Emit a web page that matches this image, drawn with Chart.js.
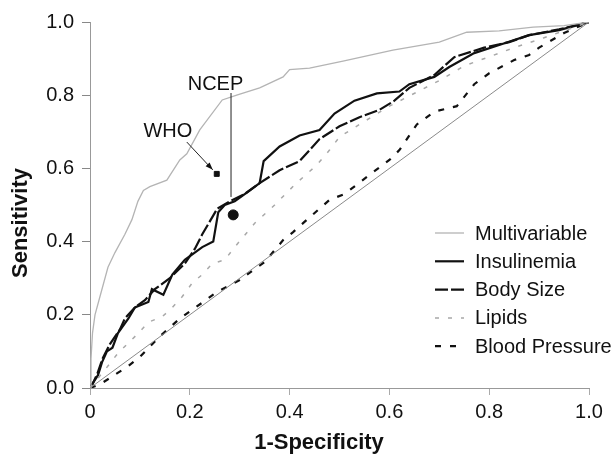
<!DOCTYPE html>
<html>
<head>
<meta charset="utf-8">
<script src="https://cdn.jsdelivr.net/npm/chart.js@4/dist/chart.umd.min.js"></script>
<style>
  html, body { margin: 0; padding: 0; background: #fff; }
  #wrap { width: 616px; height: 457px; }
</style>
</head>
<body>
<div id="wrap"><canvas id="roc" width="616" height="457"></canvas></div>
<script>
// tick values and labels
const xTickValues = [0, 0.2, 0.4, 0.6, 0.8, 1.0];
const xTickLabels = ['0', '0.2', '0.4', '0.6', '0.8', '1.0'];
const yTickValues = [0, 0.2, 0.4, 0.6, 0.8, 1.0];
const yTickLabels = ['0.0', '0.2', '0.4', '0.6', '0.8', '1.0'];

// ROC curves (1-specificity, sensitivity)
const multiX = [0, 0.002, 0.005, 0.01, 0.02, 0.036, 0.05, 0.07, 0.084, 0.096, 0.107, 0.12, 0.154, 0.18, 0.194, 0.22, 0.265, 0.294, 0.34, 0.387, 0.40, 0.44, 0.507, 0.607, 0.70, 0.755, 0.82, 0.888, 0.95, 1.0];
const multiY = [0, 0.08, 0.15, 0.2, 0.25, 0.33, 0.37, 0.42, 0.46, 0.51, 0.54, 0.55, 0.568, 0.623, 0.64, 0.705, 0.787, 0.80, 0.82, 0.85, 0.87, 0.874, 0.893, 0.923, 0.945, 0.972, 0.976, 0.986, 0.99, 1.0];

const insulX = [0, 0.003, 0.016, 0.024, 0.034, 0.045, 0.056, 0.077, 0.09, 0.117, 0.124, 0.147, 0.165, 0.19, 0.225, 0.247, 0.257, 0.27, 0.29, 0.31, 0.34, 0.348, 0.38, 0.42, 0.46, 0.49, 0.53, 0.575, 0.62, 0.64, 0.69, 0.72, 0.77, 0.82, 0.88, 0.94, 1.0];
const insulY = [0, 0.008, 0.035, 0.07, 0.10, 0.11, 0.15, 0.19, 0.22, 0.235, 0.27, 0.255, 0.31, 0.35, 0.385, 0.40, 0.48, 0.50, 0.51, 0.53, 0.56, 0.62, 0.66, 0.69, 0.705, 0.75, 0.785, 0.805, 0.81, 0.83, 0.85, 0.877, 0.915, 0.937, 0.964, 0.978, 1.0];

const bodyX = [0, 0.005, 0.015, 0.025, 0.04, 0.06, 0.07, 0.09, 0.11, 0.13, 0.16, 0.19, 0.21, 0.225, 0.255, 0.28, 0.31, 0.34, 0.38, 0.42, 0.46, 0.50, 0.54, 0.58, 0.61, 0.64, 0.69, 0.73, 0.79, 0.84, 0.88, 0.94, 1.0];
const bodyY = [0, 0.01, 0.04, 0.08, 0.12, 0.16, 0.19, 0.22, 0.24, 0.27, 0.30, 0.34, 0.38, 0.42, 0.49, 0.51, 0.53, 0.56, 0.595, 0.62, 0.68, 0.715, 0.74, 0.76, 0.785, 0.82, 0.855, 0.904, 0.93, 0.945, 0.964, 0.98, 1.0];

const lipidX = [0, 0.03, 0.056, 0.097, 0.117, 0.145, 0.165, 0.185, 0.205, 0.225, 0.245, 0.27, 0.29, 0.33, 0.37, 0.41, 0.455, 0.48, 0.50, 0.54, 0.6, 0.7, 0.75, 0.85, 0.91, 1.0];
const lipidY = [0, 0.05, 0.095, 0.15, 0.18, 0.195, 0.22, 0.25, 0.287, 0.31, 0.34, 0.35, 0.385, 0.45, 0.50, 0.555, 0.61, 0.65, 0.686, 0.72, 0.77, 0.84, 0.88, 0.93, 0.957, 1.0];

const bpX = [0, 0.02, 0.054, 0.074, 0.10, 0.137, 0.18, 0.227, 0.254, 0.30, 0.327, 0.35, 0.387, 0.407, 0.435, 0.48, 0.51, 0.555, 0.60, 0.62, 0.655, 0.69, 0.735, 0.77, 0.80, 0.85, 0.88, 0.90, 0.95, 1.0];
const bpY = [0, 0.01, 0.04, 0.057, 0.085, 0.137, 0.19, 0.235, 0.262, 0.295, 0.322, 0.344, 0.404, 0.426, 0.46, 0.514, 0.53, 0.577, 0.623, 0.65, 0.72, 0.755, 0.77, 0.83, 0.86, 0.896, 0.91, 0.93, 0.97, 1.0];

const chanceX = [0, 1];
const chanceY = [0, 1];

// criteria points
const whoPoint = [0.254, 0.585];
const ncepPoint = [0.287, 0.473];
const whoLabelAt = [0.156, 0.70];
const whoArrow = [0.194, 0.672, 0.246, 0.596];
const ncepLabelAt = [0.2515, 0.83];
const ncepLine = [0.2826, 0.806, 0.522];

const FONT = "'Liberation Sans', Arial, Helvetica, sans-serif";
Chart.defaults.font.family = FONT;
Chart.defaults.font.size = 20;
Chart.defaults.color = '#111';

const pts = (xs, ys) => xs.map((x, i) => ({ x: x, y: ys[i] }));

const curve = (label, xs, ys, color, width, dash) => ({
  label: label, data: pts(xs, ys), showLine: true, borderColor: color,
  borderWidth: width, borderDash: dash, pointRadius: 0, fill: false,
  tension: 0, inLegend: true
});

const datasets = [
  { label: 'chance', data: pts(chanceX, chanceY), showLine: true, borderColor: '#8a8a8a',
    borderWidth: 1, pointRadius: 0, inLegend: false },
  curve('Multivariable', multiX, multiY, '#b4b4b4', 1.3, []),
  curve('Lipids', lipidX, lipidY, '#a8a8a8', 1.5, [4, 9]),
  curve('Blood Pressure', bpX, bpY, '#111', 2.2, [6, 9]),
  curve('Body Size', bodyX, bodyY, '#111', 2.2, [13, 3]),
  curve('Insulinemia', insulX, insulY, '#111', 2.2, []),
  { label: 'WHO', data: [{ x: whoPoint[0], y: whoPoint[1] }], pointStyle: 'rect',
    pointRadius: 3.5, backgroundColor: '#111', borderColor: '#111', inLegend: false },
  { label: 'NCEP', data: [{ x: ncepPoint[0], y: ncepPoint[1] }], pointStyle: 'circle',
    pointRadius: 5, backgroundColor: '#111', borderColor: '#111', inLegend: false }
];

const legendOrder = ['Multivariable', 'Insulinemia', 'Body Size', 'Lipids', 'Blood Pressure'];

const extras = {
  id: 'extras',
  afterDatasetsDraw(chart) {
    const ctx = chart.ctx;
    const xs = chart.scales.x, ys = chart.scales.y;
    const px = v => xs.getPixelForValue(v), py = v => ys.getPixelForValue(v);
    ctx.save();
    ctx.fillStyle = '#111';
    ctx.font = '20px ' + FONT;
    ctx.textAlign = 'center';
    ctx.textBaseline = 'middle';
    ctx.fillText('WHO', px(whoLabelAt[0]), py(whoLabelAt[1]));
    ctx.fillText('NCEP', px(ncepLabelAt[0]), py(ncepLabelAt[1]));

    // NCEP leader line
    ctx.strokeStyle = '#222';
    ctx.lineWidth = 1;
    ctx.beginPath();
    ctx.moveTo(px(ncepLine[0]), py(ncepLine[1]));
    ctx.lineTo(px(ncepLine[0]), py(ncepLine[2]));
    ctx.stroke();

    // WHO arrow
    const x1 = px(whoArrow[0]), y1 = py(whoArrow[1]), x2 = px(whoArrow[2]), y2 = py(whoArrow[3]);
    ctx.beginPath();
    ctx.moveTo(x1, y1);
    ctx.lineTo(x2, y2);
    ctx.stroke();
    const a = Math.atan2(y2 - y1, x2 - x1);
    ctx.beginPath();
    ctx.moveTo(x2, y2);
    ctx.lineTo(x2 - 8 * Math.cos(a - 0.35), y2 - 8 * Math.sin(a - 0.35));
    ctx.lineTo(x2 - 8 * Math.cos(a + 0.35), y2 - 8 * Math.sin(a + 0.35));
    ctx.closePath();
    ctx.fill();

    // legend
    ctx.textAlign = 'left';
    legendOrder.forEach((name, i) => {
      const ds = chart.data.datasets.find(d => d.label === name);
      const y = 233 + i * 28.3;
      ctx.strokeStyle = ds.borderColor;
      ctx.lineWidth = ds.borderWidth;
      ctx.setLineDash(ds.borderDash || []);
      ctx.beginPath();
      ctx.moveTo(435, y);
      ctx.lineTo(464, y);
      ctx.stroke();
      ctx.setLineDash([]);
      ctx.fillStyle = '#111';
      ctx.fillText(name, 475, y + 1);
    });

    // axis titles
    ctx.font = 'bold 22px ' + FONT;
    ctx.textAlign = 'center';
    ctx.fillText('1-Specificity', 319, 443);
    ctx.translate(21, 223);
    ctx.rotate(-Math.PI / 2);
    ctx.fillText('Sensitivity', 0, 0);
    ctx.restore();
  }
};

new Chart(document.getElementById('roc'), {
  type: 'scatter',
  data: { datasets: datasets },
  options: {
    responsive: false,
    devicePixelRatio: 1,
    animation: false,
    layout: { padding: { top: 22, right: 27, left: 0, bottom: 0 } },
    plugins: { legend: { display: false }, tooltip: { enabled: false } },
    scales: {
      x: {
        type: 'linear', min: 0, max: 1,
        afterFit: s => { s.height = 69; },
        afterBuildTicks: s => { s.ticks = xTickValues.map(v => ({ value: v })); },
        ticks: { autoSkip: false, maxRotation: 0, padding: 5, color: '#111',
                 callback: (v, i) => xTickLabels[i] },
        grid: { drawOnChartArea: false, drawTicks: true, tickLength: 7, color: '#aaa' },
        border: { display: true, color: '#999', width: 1 }
      },
      y: {
        type: 'linear', min: 0, max: 1,
        afterFit: s => { s.width = 90; },
        afterBuildTicks: s => { s.ticks = yTickValues.map(v => ({ value: v })); },
        ticks: { autoSkip: false, padding: 8, color: '#111',
                 callback: (v, i) => yTickLabels[i] },
        grid: { drawOnChartArea: false, drawTicks: true, tickLength: 8, color: '#888' },
        border: { display: true, color: '#999', width: 1 }
      }
    }
  },
  plugins: [extras]
});
</script>
</body>
</html>
